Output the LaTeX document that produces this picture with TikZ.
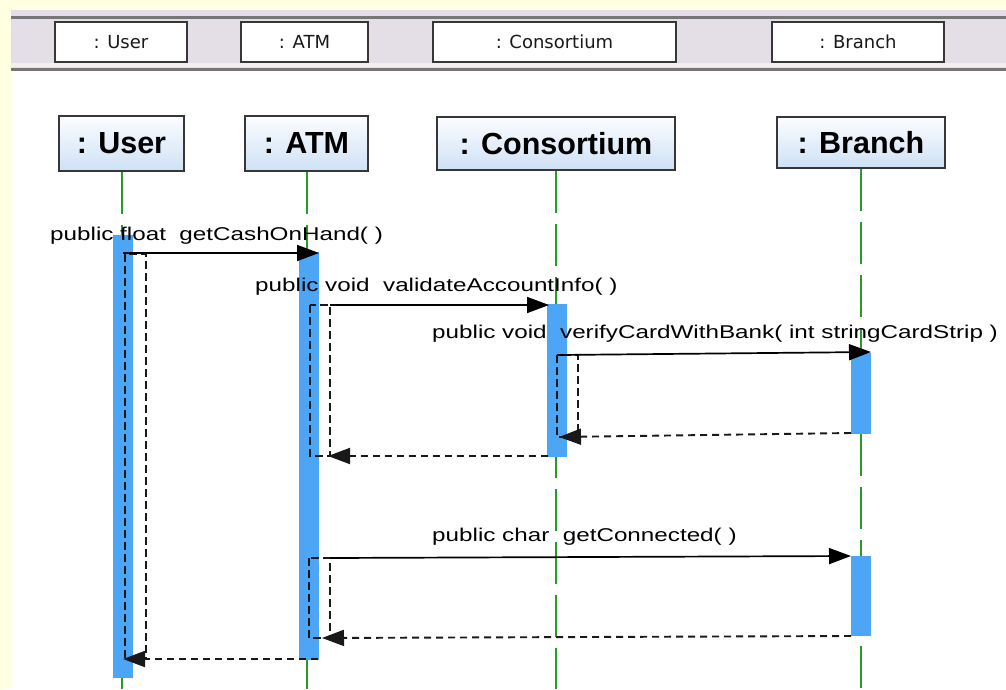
\documentclass[tikz,border=0pt]{standalone}
\usepackage{fontspec}
\usepackage{graphicx}
\setmainfont{Liberation Sans}
\newfontfamily\bandfont{DejaVu Sans}
\usetikzlibrary{arrows.meta}

\definecolor{pagebg}{RGB}{255,255,226}
\definecolor{bandbg}{RGB}{228,222,230}
\definecolor{bandlight}{RGB}{242,238,242}
\definecolor{bandline}{RGB}{118,118,118}
\definecolor{lifegreen}{RGB}{40,155,40}
\definecolor{actblue}{RGB}{76,166,245}
\definecolor{headtop}{RGB}{252,253,255}
\definecolor{headbot}{RGB}{206,225,245}
\definecolor{inkdark}{RGB}{25,25,25}
\definecolor{boxedge}{RGB}{55,55,55}

% message labels are set wide
\newcommand{\msgtext}[1]{\scalebox{1.31}[1]{\fontsize{18.5}{20}\selectfont #1}}

\tikzset{
  bandbox/.style={draw=boxedge, line width=2pt, fill=white, inner sep=0pt,
    font=\bandfont\fontsize{18}{20}\selectfont, text=inkdark},
  headbox/.style={draw=boxedge, line width=2pt, top color=headtop, bottom color=headbot,
    inner sep=0pt, font=\bfseries\fontsize{30.5}{32}\selectfont, text=black},
  lifeline/.style={lifegreen, line width=2pt, dash pattern=on 42pt off 11pt},
  actbar/.style={fill=actblue, draw=none, inner sep=0pt, anchor=north west},
  execbox/.style={draw=inkdark, line width=1.8pt, dash pattern=on 8pt off 4pt},
  callmsg/.style={draw=black, line width=1.7pt, -{Triangle[length=22pt,width=16pt]}},
  returnmsg/.style={draw=inkdark, line width=1.9pt, dash pattern=on 7pt off 5pt,
    -{Triangle[length=22pt,width=16pt]}},
  msglabel/.style={inner sep=0pt, anchor=west, text=black},
}

\begin{document}
\begin{tikzpicture}[x=1pt,y=-1pt]
\useasboundingbox (0,0) rectangle (1006,689);

% canvas
\fill[pagebg] (0,0) rectangle (1006,689);
\fill[white] (11,10) rectangle (1006,689);

% header band
\fill[bandbg] (11,10) rectangle (1006,68);
\draw[bandline, line width=3pt] (11,17) -- (1006,17);
\fill[bandlight] (11,63) rectangle (1006,67);
\draw[bandline, line width=3pt] (11,69.5) -- (1006,69.5);

\node[bandbox, minimum width=132pt, minimum height=40pt] (tabUser) at (121,42) {: User};
\node[bandbox, minimum width=127pt, minimum height=40pt] (tabAtm) at (304.5,42) {: ATM};
\node[bandbox, minimum width=243pt, minimum height=40pt] (tabCons) at (554.5,42) {: Consortium};
\node[bandbox, minimum width=172pt, minimum height=40pt] (tabBranch) at (858,42) {: Branch};

% lifeline heads
\node[headbox, minimum width=125pt, minimum height=55pt] (user) at (121.5,143.5) {: User};
\node[headbox, minimum width=123pt, minimum height=55pt] (atm) at (306.5,143.5) {: ATM};
\node[headbox, minimum width=238pt, minimum height=53pt] (cons) at (556,143.5) {: Consortium};
\node[headbox, minimum width=168pt, minimum height=51pt] (branch) at (861,142.5) {: Branch};

% lifelines
\coordinate (floor) at (0,689);
\draw[lifeline] (user.south) -- (user.south |- floor);
\draw[lifeline] (atm.south) -- (atm.south |- floor);
\draw[lifeline] (cons.south) -- (cons.south |- floor);
\draw[lifeline] (branch.south) -- (branch.south |- floor);

% activation bars
\node[actbar, minimum width=20pt, minimum height=443pt] (userBar) at (113,235) {};
\node[actbar, minimum width=20pt, minimum height=408pt] (atmBar) at (299,252) {};
\node[actbar, minimum width=20pt, minimum height=153pt] (consBar) at (547,304) {};
\node[actbar, minimum width=20pt, minimum height=81pt] (branchBarA) at (851,353) {};
\node[actbar, minimum width=20pt, minimum height=80pt] (branchBarB) at (851,556) {};

% execution outlines
\draw[execbox] (125,254) rectangle (146,659);
\draw[execbox] (310,305) rectangle (330,456);
\draw[execbox] (557,355) rectangle (578,437);
\draw[execbox] (309,558) rectangle (330,638);

% message end points
\coordinate (m1a) at (123,253);  \coordinate (m1b) at (319,253);
\coordinate (m2a) at (330,305);  \coordinate (m2b) at (549,305);
\coordinate (m3a) at (558,355);  \coordinate (m3b) at (871,352);
\coordinate (m4a) at (330,558);  \coordinate (m4b) at (851,556);
\coordinate (r1a) at (548,456);  \coordinate (r1b) at (328,456);
\coordinate (r2a) at (851,433);  \coordinate (r2b) at (559,437);
\coordinate (r3a) at (851,636);  \coordinate (r3b) at (322,638);
\coordinate (r4a) at (318,659);  \coordinate (r4b) at (123,659);

% calls
\draw[callmsg] (m1a) -- (m1b);
\draw[callmsg] (m2a) -- (m2b);
\draw[callmsg] (m3a) -- (m3b);
\draw[callmsg] (m4a) -- (m4b);

% returns
\draw[returnmsg] (r1a) -- (r1b);
\draw[returnmsg] (r2a) -- (r2b);
\draw[returnmsg] (r3a) -- (r3b);
\draw[returnmsg] (r4a) -- (r4b);

% labels
\node[msglabel] (l1) at (50,236) {\msgtext{public float\ \ getCashOnHand(\ )}};
\node[msglabel] (l2) at (255,287) {\msgtext{public void\ \ validateAccountInfo(\ )}};
\node[msglabel] (l3) at (432,334) {\msgtext{public void\ \ verifyCardWithBank( int stringCardStrip )}};
\node[msglabel] (l4) at (432,537) {\msgtext{public char\ \ getConnected(\ )}};
\end{tikzpicture}
\end{document}
